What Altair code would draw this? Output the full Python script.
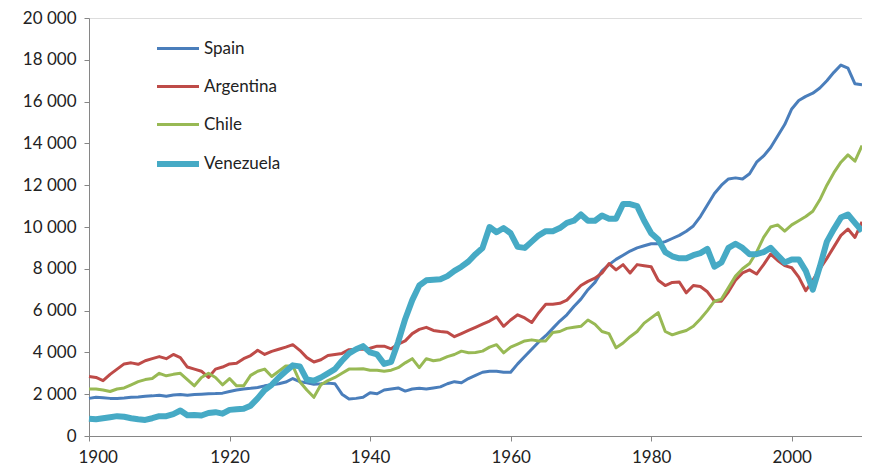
import altair as alt
import pandas as pd

years = list(range(1900, 2011))

spain = [1800, 1850, 1830, 1800, 1800, 1820, 1850, 1870, 1900, 1920,
         1950, 1900, 1960, 1980, 1950, 1980, 2000, 2020, 2030, 2050,
         2130, 2200, 2250, 2280, 2320, 2400, 2450, 2500, 2580, 2750,
         2600, 2550, 2480, 2500, 2530, 2500, 2000, 1770, 1800, 1850,
         2070, 2020, 2200, 2250, 2300, 2150, 2250, 2280, 2250, 2300,
         2350, 2500, 2600, 2550, 2750, 2900, 3050, 3100, 3100, 3050,
         3050, 3450, 3800, 4150, 4500, 4800, 5150, 5500, 5800, 6200,
         6550, 7000, 7350, 7900, 8200, 8450, 8650, 8850, 9000, 9100,
         9200, 9200, 9300, 9450, 9600, 9800, 10050, 10500, 11050, 11600,
         12000, 12300, 12350, 12300, 12550, 13100, 13400, 13800, 14350, 14900,
         15650, 16050, 16250, 16400, 16650, 17000, 17400, 17750, 17600, 16850,
         16800]

argentina = [2850, 2800, 2650, 2950, 3200, 3450, 3500, 3430, 3600, 3700,
             3800, 3700, 3900, 3750, 3300, 3200, 3100, 2800, 3200, 3300,
             3450, 3480, 3700, 3850, 4100, 3900, 4050, 4150, 4250, 4370,
             4100, 3750, 3540, 3650, 3850, 3900, 3950, 4130, 4150, 4150,
             4200, 4300, 4300, 4170, 4400, 4550, 4900, 5100, 5200, 5050,
             5000, 4960, 4750, 4900, 5050, 5200, 5350, 5500, 5700, 5250,
             5550, 5800, 5650, 5430, 5900, 6300, 6300, 6350, 6500, 6850,
             7200, 7400, 7550, 7800, 8250, 7950, 8200, 7800, 8200, 8150,
             8100, 7450, 7200, 7350, 7370, 6850, 7200, 7150, 6900, 6450,
             6450, 6900, 7450, 7800, 7950, 7750, 8200, 8700, 8400, 8150,
             8050, 7600, 6950, 7450, 8000, 8500, 9050, 9600, 9900, 9500,
             10250]

chile = [2250, 2250, 2200, 2130, 2250, 2300, 2450, 2600, 2700, 2750,
         3000, 2880, 2950, 3000, 2700, 2400, 2800, 3000, 2800, 2450,
         2750, 2400, 2400, 2900, 3100, 3200, 2850, 3100, 3350, 3350,
         2600, 2200, 1850, 2450, 2650, 2800, 3000, 3200, 3200, 3220,
         3150, 3150, 3100, 3150, 3270, 3500, 3700, 3270, 3700, 3600,
         3650, 3800, 3900, 4060, 3980, 4000, 4060, 4250, 4370, 3980,
         4250, 4400, 4550, 4600, 4550, 4550, 4950, 5000, 5150, 5200,
         5250, 5550, 5350, 5000, 4900, 4220, 4450, 4750, 5000, 5400,
         5650, 5900, 5000, 4840, 4950, 5050, 5250, 5600, 6000, 6450,
         6550, 7100, 7650, 8000, 8250, 8800, 9500, 10000, 10100, 9800,
         10100, 10300, 10500, 10750, 11300, 12000, 12600, 13100, 13450, 13150,
         13900]

venezuela = [830, 800, 850, 900, 950, 920, 850, 800, 770, 850,
             950, 950, 1050, 1220, 990, 1000, 980, 1100, 1140, 1070,
             1250, 1280, 1300, 1450, 1800, 2200, 2450, 2800, 3100, 3380,
             3330, 2700, 2640, 2800, 3000, 3200, 3600, 3950, 4150, 4300,
             4000, 3900, 3450, 3550, 4500, 5600, 6500, 7200, 7450, 7480,
             7500, 7650, 7900, 8100, 8350, 8700, 9000, 10000, 9750, 9950,
             9700, 9050, 9000, 9300, 9600, 9800, 9800, 9950, 10200, 10300,
             10600, 10300, 10300, 10550, 10400, 10400, 11100, 11100, 11000, 10300,
             9700, 9400, 8800, 8600, 8500, 8500, 8650, 8750, 8950, 8100,
             8300, 9000, 9200, 9000, 8700, 8700, 8800, 9000, 8650, 8300,
             8450, 8450, 7900, 7000, 8100, 9300, 9900, 10450, 10600, 10200,
             9800]

countries = ["Spain", "Argentina", "Chile", "Venezuela"]
colors = ["#4A7EBB", "#BE4B48", "#98B954", "#46AAC5"]
widths = [3, 3, 3, 6]

series = {"Spain": spain, "Argentina": argentina, "Chile": chile, "Venezuela": venezuela}
rows = []
for i, c in enumerate(countries):
    for y, v in zip(years, series[c]):
        rows.append({"year": y, "value": v, "country": c})
df = pd.DataFrame(rows)

FONT = "Lato"

color = alt.Color(
    "country:N",
    sort=countries,
    scale=alt.Scale(domain=countries, range=colors),
    legend=alt.Legend(
        title=None, orient="none", legendX=65, legendY=8,
        symbolType="stroke", symbolSize=1764,
        labelFont=FONT, labelFontSize=17, labelColor="#222",
        rowPadding=7, labelOffset=2,
    ),
)
sw = alt.StrokeWidth(
    "country:O",
    sort=countries,
    scale=alt.Scale(type="ordinal", domain=countries, range=widths),
    legend=None,
)

base = alt.Chart(df).encode(
    x=alt.X("year:Q", scale=alt.Scale(domain=[1900, 2010], nice=False, zero=False),
            axis=alt.Axis(values=[1900, 1920, 1940, 1960, 1980, 2000], format="d",
                          title=None, grid=False, tickSize=5, labelPadding=8,
                          labelFlush=True, labelFlushOffset=11,
                          labelFont=FONT, labelFontSize=17, labelColor="#222",
                          domainColor="#868686", tickColor="#868686")),
    y=alt.Y("value:Q", scale=alt.Scale(domain=[0, 20000], nice=False),
            axis=alt.Axis(values=list(range(0, 20001, 2000)), title=None, grid=False,
                          tickSize=5, labelPadding=8,
                          labelExpr="replace(format(datum.value, ','), ',', ' ')",
                          labelFont=FONT, labelFontSize=17, labelColor="#222",
                          domainColor="#868686", tickColor="#868686")),
    color=color,
    strokeWidth=sw,
)

layers = []
for c in countries:
    layers.append(base.transform_filter(alt.datum.country == c).mark_line(strokeJoin="round"))

chart = alt.layer(*layers).properties(
    width=773, height=418,
    padding={"left": 81, "top": 10, "right": 0, "bottom": 34},
    autosize=alt.AutoSizeParams(type="none"),
).configure_view(stroke="#868686", strokeWidth=1).configure(background="white")

chart.save("out.html", embed_options={"renderer": "svg", "actions": False})
